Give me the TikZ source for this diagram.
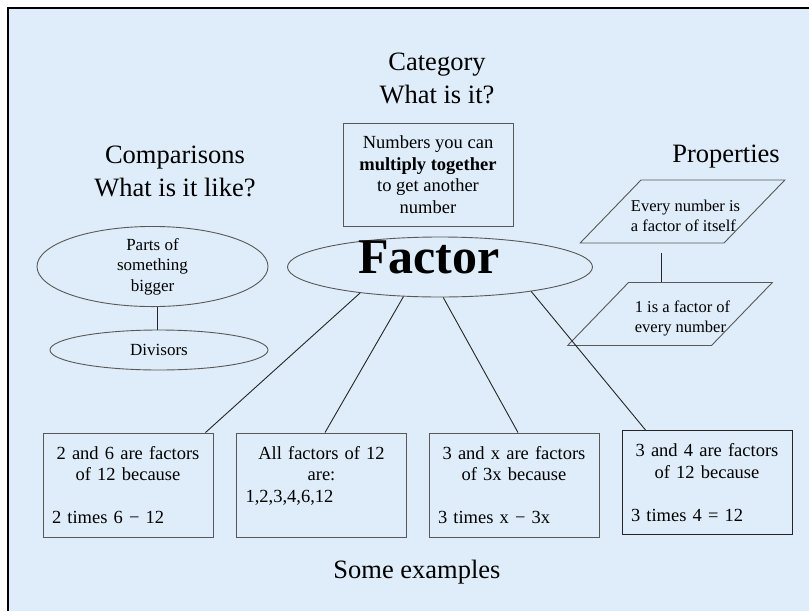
\documentclass[tikz,border=0pt]{standalone}
\usepackage{fontspec}
\setmainfont{Liberation Serif}
\usetikzlibrary{shapes.geometric}
\setlength{\parindent}{0pt}
\definecolor{bgblue}{RGB}{222,237,249}
\definecolor{boxgray}{RGB}{88,88,88}

\begin{document}
\begin{tikzpicture}[x=1pt,y=-1pt,
    every node/.style={font=\fontsize{18.5}{21.5}\selectfont},
    heading/.style={font=\fontsize{26.5}{33}\selectfont,align=center},
    catbox/.style={draw=boxgray,line width=0.9pt,minimum width=170pt,minimum height=103pt,align=center,inner sep=0pt},
    oval/.style={draw=boxgray,ellipse,line width=0.9pt,inner sep=0pt,align=center,font=\fontsize{17}{20.5}\selectfont},
    propbox/.style={draw=boxgray,trapezium,trapezium left angle=46,trapezium right angle=134,line width=0.9pt,inner xsep=41.5pt,inner ysep=31.5pt},
    proptext/.style={font=\fontsize{16.5}{20}\selectfont,align=left,inner sep=0pt},
    exbox/.style={draw=boxgray,line width=0.9pt,minimum width=170pt,minimum height=104pt,text width=152pt,inner xsep=9pt,inner ysep=0pt},
    link/.style={line width=0.9pt,black!85}]
        \useasboundingbox (0,0) rectangle (809,611);
        %frame
        \fill[bgblue] (8,8) rectangle (809,611);
        \draw[line width=1.3pt] (8,611) -- (8,8) -- (809,8);

        %category
        \node[heading] (cat) at (437,78.5) {Category\\What is it?};
        \node[catbox] (def) at (428,174.5) {Numbers you can\\\textbf{multiply together}\\to get another\\number};
        \node[draw=boxgray,ellipse,line width=0.9pt,minimum width=305pt,minimum height=60pt,inner sep=0pt,text height=27.5pt,text depth=14.5pt,font=\fontsize{50}{50}\selectfont\bfseries] (factor) at (440,267) {Factor\kern22pt};

        %comparisons
        \node[heading] (comp) at (175,171.5) {Comparisons\\What is it like?};
        \node[oval,minimum width=231pt,minimum height=61pt] (parts) at (152.5,266.5) {Parts of\\something\\bigger};
        \node[oval,minimum width=218pt,minimum height=40pt] (div) at (159,350) {Divisors};
        \draw[link] ([xshift=4.5pt]parts.south) -- ([xshift=-2pt]div.north);

        %properties
        \node[heading] (prop) at (726,157) {Properties};
        \node[propbox,label={[proptext,xshift=3pt,yshift=-4.5pt]center:Every number is\\a factor of itself}] (prop1) at (682.5,211.5) {};
        \node[propbox,label={[proptext,xshift=12.5pt,yshift=-4.5pt]center:1 is a factor of\\every number}] (prop2) at (670,314) {};
        \draw[link] ([xshift=-21.5pt,yshift=-10pt]prop1.south) -- ([xshift=-9pt]prop2.north);

        %examples
        \node[exbox] (ex1) at (128,485) {{\centering 2 and 6 are factors\\of 12 because\par}\vspace{21.5pt}\raggedright 2 times 6 − 12};
        \node[exbox] (ex2) at (321.5,485) {{\centering All factors of 12\\are:\par}\raggedright 1,2,3,4,6,12\par\mbox{}};
        \node[exbox] (ex3) at (514,485) {{\centering 3 and x are factors\\of 3x because\par}\vspace{21.5pt}\raggedright 3 times x − 3x};
        \node[exbox,draw=black!85] (ex4) at (707,482.5) {{\centering 3 and 4 are factors\\of 12 because\par}\vspace{21.5pt}\raggedright 3 times 4 = 12};
        \node[heading] (some) at (417,572) {Some examples};

        \draw[link] (factor.198.7) -- ([xshift=-8pt]ex1.north east);
        \draw[link] (factor.219.8) -- ([xshift=3.5pt]ex2.north);
        \draw[link] (factor.276) -- ([xshift=4pt]ex3.north);
        \draw[link] (factor.345) -- ([xshift=24pt]ex4.north west);
\end{tikzpicture}
\end{document}
